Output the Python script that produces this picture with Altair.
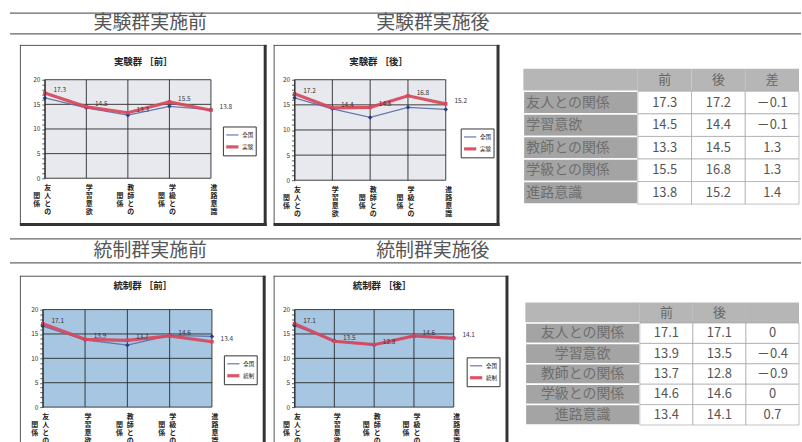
import altair as alt
import pandas as pd

FONT = "Noto Sans CJK JP"

# ---------------- data ----------------
CATS = ["友人との関係", "学習意欲", "教師との関係", "学級との関係", "進路意識"]
Y_TICKS = [0, 5, 10, 15, 20]
MINOR_TICKS = [0, 1, 2, 3, 4, 5, 6, 7, 8, 9, 10, 11, 12, 13, 14, 15, 16, 17, 18, 19, 20]

SECTION_TITLES_1 = ["実験群実施前", "実験群実施後"]
SECTION_TITLES_2 = ["統制群実施前", "統制群実施後"]
CHART_TITLES = ["実験群 ［前］", "実験群 ［後］", "統制群 ［前］", "統制群 ［後］"]
LEGEND_EXP = ["全国", "実験"]
LEGEND_CTL = ["全国", "統制"]

EXP_PRE = [17.3, 14.5, 13.3, 15.5, 13.8]
EXP_POST = [17.2, 14.4, 14.5, 16.8, 15.2]
EXP_DIFF = [-0.1, -0.1, 1.3, 1.3, 1.4]
CTL_PRE = [17.1, 13.9, 13.7, 14.6, 13.4]
CTL_POST = [17.1, 13.5, 12.8, 14.6, 14.1]
CTL_DIFF = [0, -0.4, -0.9, 0, 0.7]

REF_1 = [16.3, 14.3, 12.8, 14.6, 13.9]
REF_2 = [16.4, 14.2, 12.5, 14.5, 14.1]
REF_3 = [16.6, 13.8, 12.7, 14.7, 14.5]
REF_4 = [16.7, 13.6, 12.8, 14.6, 14.2]

TABLE_HEAD_1 = ["前", "後", "差"]
TABLE_HEAD_2 = ["前", "後", ""]

# ---------------- styles ----------------
BLUE = "#5a6ea6"
BLUE_PT = "#2b3c88"
RED = "#d8475c"
GRID = "#2a2a2a"
FRAME = "#555555"
BG_EXP = "#e8e9ee"
BG_CTL = "#a7c6e1"
HEAD_BG = "#b6b6b6"
LABEL_BG = "#a4a4a4"

INDEP = dict(color="independent", strokeWidth="independent")


def one_row():
    return pd.DataFrame({"a": [0]})


def spacer(w, h):
    return (
        alt.Chart(one_row())
        .mark_point(opacity=0)
        .encode(x=alt.value(0), y=alt.value(0))
        .properties(width=w, height=h, view=alt.ViewBackground(stroke=None))
    )


def header(titles, w, h, y_top, y_bot, y_text, xs):
    base = alt.Chart(one_row())
    layers = [
        base.mark_rule(color="#666", strokeWidth=1.2).encode(
            x=alt.value(7), x2=alt.value(w), y=alt.value(y_top)),
        base.mark_rule(color="#666", strokeWidth=1.2).encode(
            x=alt.value(7), x2=alt.value(w), y=alt.value(y_bot)),
    ]
    for t, x in zip(titles, xs):
        layers.append(
            alt.Chart(pd.DataFrame({"t": [t]}))
            .mark_text(font=FONT, fontSize=19, color="#555", baseline="middle", align="center")
            .encode(x=alt.value(x), y=alt.value(y_text), text="t:N")
        )
    return alt.layer(*layers).properties(width=w, height=h, view=alt.ViewBackground(stroke=None))


def line_panel(title, main, ref, names, w, h, px, py, leg, title_off, title_dx, bg, closed):
    n = len(CATS)
    idx = list(range(n))
    xs = alt.Scale(domain=[idx[0], idx[-1]], range=list(px))
    ys = alt.Scale(domain=[Y_TICKS[0], Y_TICKS[-1]], range=[py[1], py[0]])
    yax = alt.Axis(
        values=MINOR_TICKS,
        labelExpr="datum.value % 5 === 0 ? datum.label : ''",
        offset=-px[0], title=None, grid=False, tickSize=3, tickWidth=0.8,
        labelFontSize=6.5, labelFont=FONT, labelPadding=2, labelOverlap=False,
        labelColor="#333", domainColor="#333", tickColor="#333", zindex=1,
    )

    def X(f):
        return alt.X(f, type="quantitative", scale=xs, axis=None)

    def Y(f):
        return alt.Y(f, type="quantitative", scale=ys, axis=yax)

    box = pd.DataFrame({"x0": [idx[0]], "x1": [idx[-1]], "y0": [Y_TICKS[0]], "y1": [Y_TICKS[-1]]})
    bg_l = alt.Chart(box).mark_rect(fill=bg).encode(
        x=X("x0"), x2=alt.X2("x1"), y=Y("y0"), y2=alt.Y2("y1"))

    hg = pd.DataFrame({"t": Y_TICKS, "x0": idx[0], "x1": idx[-1]})
    hgrid = alt.Chart(hg).mark_rule(color=GRID, strokeWidth=0.9).encode(
        y=Y("t"), x=X("x0"), x2=alt.X2("x1"))
    vg = pd.DataFrame({"i": idx, "y0": Y_TICKS[0], "y1": Y_TICKS[-1]})
    vgrid = alt.Chart(vg).mark_rule(color=GRID, strokeWidth=0.9).encode(
        x=X("i"), y=Y("y0"), y2=alt.Y2("y1"))

    long = pd.DataFrame({
        "i": idx + idx,
        "v": list(ref) + list(main),
        "s": [names[0]] * n + [names[1]] * n,
    })
    legend = alt.Legend(
        orient="none", legendX=leg[0], legendY=leg[1], title=None, direction="vertical",
        fillColor="white", strokeColor="#333", padding=1.5, labelFontSize=5.5, labelFont=FONT,
        labelColor="#222", symbolType="stroke", symbolSize=150, rowPadding=0, labelOffset=2,
    )
    lines = alt.Chart(long).mark_line(opacity=0.92).encode(
        x=X("i"), y=Y("v"),
        color=alt.Color("s:N", scale=alt.Scale(domain=names, range=[BLUE, RED]), legend=legend),
        strokeWidth=alt.StrokeWidth("s:N", scale=alt.Scale(domain=names, range=[1.2, 3.2]), legend=legend),
        detail="s:N",
    )
    refdf = pd.DataFrame({"i": idx, "v": ref})
    maindf = pd.DataFrame({"i": idx, "v": main})
    bpts = alt.Chart(refdf).mark_point(shape="diamond", filled=True, size=20, color=BLUE_PT, opacity=1).encode(
        x=X("i"), y=Y("v"))
    rpts = alt.Chart(maindf).mark_point(shape="square", filled=True, size=12, color=RED, opacity=1).encode(
        x=X("i"), y=Y("v"))
    labels = alt.Chart(maindf).mark_text(dx=15, dy=-3, fontSize=6.5, font=FONT, color="#333").encode(
        x=X("i"), y=Y("v"), text=alt.Text("v:Q", format=".1f"))

    first, second = [], []
    for c in CATS:
        if c.endswith("との関係"):
            a, b = c[:-2], c[-2:]
        else:
            a, b = c, ""
        first.append(list(a))
        second.append(list(b) if b else [""])
    xl = pd.DataFrame({"i": idx, "y0": Y_TICKS[0], "a": first, "b": second})
    xl_a = alt.Chart(xl).mark_text(
        baseline="top", align="center", fontSize=7, lineHeight=8,
        dx=3, dy=6, font=FONT, fontWeight="bold", color="#222").encode(
        x=X("i"), y=Y("y0"), text="a")
    xl_b = alt.Chart(xl).mark_text(
        baseline="top", align="center", fontSize=7, lineHeight=8,
        dx=-8, dy=14, font=FONT, fontWeight="bold", color="#222").encode(
        x=X("i"), y=Y("y0"), text="b")

    fr = alt.Chart(one_row())
    frames = [
        fr.mark_rule(color=FRAME, strokeWidth=1).encode(x=alt.value(0.5), y=alt.value(0), y2=alt.value(h)),
        fr.mark_rule(color=FRAME, strokeWidth=1).encode(y=alt.value(0.5), x=alt.value(0), x2=alt.value(w)),
        fr.mark_rule(color="#333", strokeWidth=3).encode(x=alt.value(w - 1.5), y=alt.value(0), y2=alt.value(h)),
    ]
    if closed:
        frames.append(
            fr.mark_rule(color="#333", strokeWidth=3).encode(y=alt.value(h - 1.5), x=alt.value(0), x2=alt.value(w)))

    return alt.layer(bg_l, hgrid, vgrid, lines, bpts, rpts, labels, xl_a, xl_b, *frames).properties(
        width=w, height=h,
        title=alt.TitleParams(text=title, anchor="middle", offset=title_off, dx=title_dx, fontSize=9.5,
                              font=FONT, fontWeight="bold", color="#222"),
        view=alt.ViewBackground(stroke=None, fill="white"),
    )


def fmt(v):
    return f"{v:.1f}"


def fmt_diff(v):
    if v == 0:
        return "0"
    if v < 0:
        return "－" + f"{abs(v):.1f}"
    return f"{v:.1f}"


def table_panel(labels, pre, post, diff, heads, w, h, lab_rng, val_rng, y_rng, align):
    head_key = "項目"
    rows = [head_key] + labels
    cols = ["c1", "c2", "c3"]
    ys = alt.Scale(domain=rows, range=list(y_rng), paddingInner=0, paddingOuter=0)
    lxs = alt.Scale(domain=["label"], range=list(lab_rng), paddingInner=0, paddingOuter=0)
    vxs = alt.Scale(domain=cols, range=list(val_rng), paddingInner=0, paddingOuter=0)

    def YB():
        return alt.Y("r:N", scale=ys, axis=None)

    lab_df = pd.DataFrame({"r": labels, "col": "label", "t": labels})
    head_lab = pd.DataFrame({"r": [head_key], "col": ["label"]})
    head_val = pd.DataFrame({"r": head_key, "col": cols, "t": heads})
    vals = []
    for i, lab in enumerate(labels):
        vals.append({"r": lab, "col": "c1", "t": fmt(pre[i])})
        vals.append({"r": lab, "col": "c2", "t": fmt(post[i])})
        vals.append({"r": lab, "col": "c3", "t": fmt_diff(diff[i])})
    val_df = pd.DataFrame(vals)

    LX = alt.X("col:N", scale=lxs, axis=None)
    VX = alt.X("col:N", scale=vxs, axis=None)
    half = (lab_rng[1] - lab_rng[0]) / 2
    if align == "left":
        lab_text = alt.Chart(lab_df).mark_text(align="left", dx=-half + 3, fontSize=14, font=FONT, color="#6e6e6e")
    else:
        lab_text = alt.Chart(lab_df).mark_text(align="center", fontSize=14, font=FONT, color="#6e6e6e")

    layers = [
        alt.Chart(head_lab).mark_rect(fill=HEAD_BG).encode(x=LX, y=YB()),
        alt.Chart(lab_df).mark_rect(fill=LABEL_BG, stroke="white", strokeWidth=1.5).encode(x=LX, y=YB()),
        lab_text.encode(x=LX, y=YB(), text="t:N"),
        alt.Chart(head_val).mark_rect(fill=HEAD_BG).encode(x=VX, y=YB()),
        alt.Chart(val_df).mark_rect(fill="white", stroke="#9a9a9a", strokeWidth=0.6).encode(x=VX, y=YB()),
        alt.Chart(head_val).mark_text(fontSize=13, font=FONT, color="#666").encode(x=VX, y=YB(), text="t:N"),
        alt.Chart(val_df).mark_text(fontSize=13, font=FONT, color="#555").encode(x=VX, y=YB(), text="t:N"),
    ]
    return alt.layer(*layers).resolve_scale(x="independent").properties(
        width=w, height=h, view=alt.ViewBackground(stroke=None))


h1 = header(SECTION_TITLES_1, 802, 41, 12, 33, 22.5, [148, 432])
h2 = header(SECTION_TITLES_2, 802, 45, 11, 35, 23, [148, 432])

c1 = line_panel(CHART_TITLES[0], EXP_PRE, REF_1, LEGEND_EXP, 248, 182, (25, 192), (35, 134),
                (204, 82), -23, 0, BG_EXP, True)
c2 = line_panel(CHART_TITLES[1], EXP_POST, REF_2, LEGEND_EXP, 227, 182, (21, 173), (35, 136),
                (188, 84), -23, -8, BG_EXP, True)
c3 = line_panel(CHART_TITLES[2], CTL_PRE, REF_3, LEGEND_CTL, 247, 174, (23, 193), (34, 132),
                (205, 80), -16, 0, BG_CTL, False)
c4 = line_panel(CHART_TITLES[3], CTL_POST, REF_4, LEGEND_CTL, 236, 174, (21, 181), (34, 132),
                (194, 82), -16, -9, BG_CTL, False)

t1 = table_panel(CATS, EXP_PRE, EXP_POST, EXP_DIFF, TABLE_HEAD_1, 303, 182, (24, 139), (139, 301), (24, 160), "left")
t2 = table_panel(CATS, CTL_PRE, CTL_POST, CTL_DIFF, TABLE_HEAD_2, 294, 174, (17, 132), (132, 292), (27, 150), "center")

row1 = alt.hconcat(spacer(17, 182), c1, spacer(7, 182), c2, t1, spacing=0, bounds="flush").resolve_scale(
    **INDEP).resolve_legend(**INDEP)
row2 = alt.hconcat(spacer(17, 174), c3, spacer(8, 174), c4, t2, spacing=0, bounds="flush").resolve_scale(
    **INDEP).resolve_legend(**INDEP)

chart = (
    alt.vconcat(h1, row1, h2, row2, spacing=0)
    .resolve_scale(**INDEP)
    .resolve_legend(**INDEP)
    .properties(padding=0, background="white")
    .configure_view(stroke=None)
)

chart.save("out.html", embed_options={"renderer": "svg", "actions": False})
